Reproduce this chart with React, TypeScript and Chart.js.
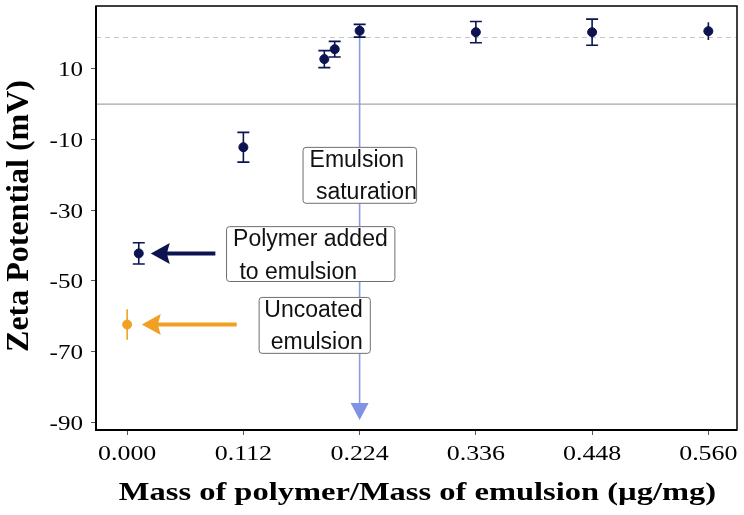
import React, { useEffect, useRef } from "react";
import { Chart, registerables } from "chart.js";

Chart.register(...registerables);

// ---- data ----
const polymerRatio = [0.0112, 0.112, 0.19, 0.2, 0.224, 0.336, 0.448, 0.56];
const polymerZeta = [-42.2, -12.2, 12.7, 15.5, 20.7, 20.3, 20.3, 20.6];
const polymerErr = [3.0, 4.2, 2.4, 2.2, 1.8, 3.0, 3.7, 2.5];
const polymerCaps = [true, true, true, true, true, true, true, false];
const uncoatedRatio = [0];
const uncoatedZeta = [-62.3];
const uncoatedErr = [4.3];
const xTickValues = [0, 0.112, 0.224, 0.336, 0.448, 0.56];
const xTickLabels = ["0.000", "0.112", "0.224", "0.336", "0.448", "0.560"];
const yTickValues = [10, -10, -30, -50, -70, -90];
const yTickLabels = ["10", "-10", "-30", "-50", "-70", "-90"];
const saturationZeta = 18.8;
const saturationRatio = 0.224;
const xTitle = "Mass of polymer/Mass of emulsion (µg/mg)";
const yTitle = "Zeta Potential (mV)";

const NAVY = "#0b1450";
const ORANGE = "#f1a024";
const LINE_BLUE = "#8c9ce2";
const HEAD_BLUE = "#7f92e4";
const SANS = "'Liberation Sans', Arial, sans-serif";
const SERIF = "'Liberation Serif', 'Times New Roman', serif";

type Note = {
  lines: string[];
  x0: number;
  x1: number;
  y0: number;
  y1: number;
  align: "left" | "right";
};

const notes: Note[] = [
  { lines: ["Emulsion", " saturation"], x0: 0.169, x1: 0.2784, y0: -12.1, y1: -27.9, align: "left" },
  { lines: ["Polymer added", " to emulsion"], x0: 0.0953, x1: 0.2575, y0: -34.5, y1: -50.0, align: "left" },
  { lines: ["Uncoated", "emulsion"], x0: 0.1267, x1: 0.2338, y0: -54.5, y1: -70.3, align: "right" },
];

const arrows = [
  { color: NAVY, xTail: 0.085, xTip: 0.0228, y: -42.2 },
  { color: ORANGE, xTail: 0.1056, xTip: 0.0141, y: -62.3 },
];

const overlay = {
  id: "overlay",
  beforeDatasetsDraw(chart: any) {
    const { ctx, chartArea: a } = chart;
    const xs = chart.scales.x;
    const ys = chart.scales.y;
    ctx.save();
    // zero line
    ctx.strokeStyle = "#a6a6a6";
    ctx.lineWidth = 1.2;
    const yz = ys.getPixelForValue(0);
    ctx.beginPath();
    ctx.moveTo(a.left, yz);
    ctx.lineTo(a.right, yz);
    ctx.stroke();
    // saturation dashed line
    ctx.strokeStyle = "#c6c6c6";
    ctx.setLineDash([5, 4]);
    const ysat = ys.getPixelForValue(saturationZeta);
    ctx.beginPath();
    ctx.moveTo(a.left, ysat);
    ctx.lineTo(a.right, ysat);
    ctx.stroke();
    ctx.setLineDash([]);
    // vertical saturation arrow
    const idx = polymerRatio.indexOf(saturationRatio);
    const vx = xs.getPixelForValue(saturationRatio);
    const vTop = ys.getPixelForValue(polymerZeta[idx]);
    const vTip = ys.getPixelForValue(-89.3);
    ctx.strokeStyle = LINE_BLUE;
    ctx.lineWidth = 1.6;
    ctx.beginPath();
    ctx.moveTo(vx, vTop);
    ctx.lineTo(vx, vTip - 14);
    ctx.stroke();
    ctx.fillStyle = HEAD_BLUE;
    ctx.beginPath();
    ctx.moveTo(vx, vTip);
    ctx.lineTo(vx - 9, vTip - 17);
    ctx.lineTo(vx + 9, vTip - 17);
    ctx.closePath();
    ctx.fill();
    // error bars
    const drawErr = (xv: number, yv: number, e: number, cap: boolean, color: string) => {
      const px = xs.getPixelForValue(xv);
      const pt = ys.getPixelForValue(yv + e);
      const pb = ys.getPixelForValue(yv - e);
      ctx.strokeStyle = color;
      ctx.lineWidth = 1.6;
      ctx.beginPath();
      ctx.moveTo(px, pt);
      ctx.lineTo(px, pb);
      if (cap) {
        ctx.moveTo(px - 6, pt);
        ctx.lineTo(px + 6, pt);
        ctx.moveTo(px - 6, pb);
        ctx.lineTo(px + 6, pb);
      }
      ctx.stroke();
    };
    polymerRatio.forEach((xv, i) => drawErr(xv, polymerZeta[i], polymerErr[i], polymerCaps[i], NAVY));
    uncoatedRatio.forEach((xv, i) => drawErr(xv, uncoatedZeta[i], uncoatedErr[i], false, ORANGE));
    ctx.restore();
  },
  afterDatasetsDraw(chart: any) {
    const { ctx } = chart;
    const xs = chart.scales.x;
    const ys = chart.scales.y;
    ctx.save();
    // arrows
    arrows.forEach((ar) => {
      const tail = xs.getPixelForValue(ar.xTail);
      const tip = xs.getPixelForValue(ar.xTip);
      const py = ys.getPixelForValue(ar.y);
      ctx.strokeStyle = ar.color;
      ctx.fillStyle = ar.color;
      ctx.lineWidth = 4;
      ctx.beginPath();
      ctx.moveTo(tail, py);
      ctx.lineTo(tip + 12, py);
      ctx.stroke();
      ctx.beginPath();
      ctx.moveTo(tip, py);
      ctx.lineTo(tip + 19, py - 10.5);
      ctx.lineTo(tip + 16, py);
      ctx.lineTo(tip + 19, py + 10.5);
      ctx.closePath();
      ctx.fill();
    });
    // annotation boxes
    notes.forEach((n) => {
      const l = xs.getPixelForValue(n.x0);
      const r = xs.getPixelForValue(n.x1);
      const t = ys.getPixelForValue(n.y0);
      const b = ys.getPixelForValue(n.y1);
      ctx.fillStyle = "#ffffff";
      ctx.strokeStyle = "#6e6e6e";
      ctx.lineWidth = 1;
      ctx.beginPath();
      (ctx as any).roundRect(l + 0.5, t + 0.5, r - l, b - t, 3);
      ctx.fill();
      ctx.stroke();
      ctx.fillStyle = "#111111";
      ctx.font = `23px ${SANS}`;
      ctx.textBaseline = "alphabetic";
      ctx.textAlign = n.align;
      const tx = n.align === "left" ? l + 7 : r - 7;
      ctx.fillText(n.lines[0], tx, t + 20);
      ctx.fillText(n.lines[1], tx, t + 52.5);
    });
    ctx.restore();
  },
  afterDraw(chart: any) {
    const { ctx, chartArea: a } = chart;
    const xs = chart.scales.x;
    const ys = chart.scales.y;
    ctx.save();
    // frame
    ctx.strokeStyle = "#000000";
    ctx.lineWidth = 1.5;
    ctx.strokeRect(a.left, a.top, a.right - a.left, a.bottom - a.top);
    ctx.lineWidth = 2;
    ctx.beginPath();
    ctx.moveTo(a.left, a.top);
    ctx.lineTo(a.left, a.bottom);
    ctx.lineTo(a.right, a.bottom);
    ctx.stroke();

    // tick labels (Times-like, slightly wide as in the original figure)
    ctx.fillStyle = "#000000";
    ctx.font = `22px ${SERIF}`;
    ctx.textBaseline = "alphabetic";
    ctx.textAlign = "center";
    xTickValues.forEach((v, i) => {
      const px = xs.getPixelForValue(v);
      ctx.save();
      ctx.translate(px, a.bottom + 30);
      ctx.scale(1.18, 1);
      ctx.fillText(xTickLabels[i], 0, 0);
      ctx.restore();
    });
    ctx.textAlign = "right";
    yTickValues.forEach((v, i) => {
      const py = ys.getPixelForValue(v);
      ctx.save();
      ctx.translate(a.left - 13, py + 7.5);
      ctx.scale(1.14, 1);
      ctx.fillText(yTickLabels[i], 0, 0);
      ctx.restore();
    });

    // axis titles
    ctx.font = `bold 26px ${SERIF}`;
    ctx.textAlign = "center";
    ctx.save();
    ctx.translate((a.left + a.right) / 2 + 1, a.bottom + 70);
    ctx.scale(1.25, 1);
    ctx.fillText(xTitle, 0, 0);
    ctx.restore();

    ctx.font = `bold 32px ${SERIF}`;
    ctx.save();
    ctx.translate(a.left - 68, (a.top + a.bottom) / 2 - 2);
    ctx.rotate(-Math.PI / 2);
    ctx.fillText(yTitle, 0, 0);
    ctx.restore();
    ctx.restore();
  },
};

export default function App() {
  const ref = useRef<HTMLCanvasElement | null>(null);
  useEffect(() => {
    document.body.style.margin = "0";
    if (!ref.current) return;
    const chart = new Chart(ref.current, {
      type: "scatter",
      data: {
        datasets: [
          {
            label: "Polymer coated",
            data: polymerRatio.map((x, i) => ({ x, y: polymerZeta[i] })),
            backgroundColor: NAVY,
            borderColor: NAVY,
            pointRadius: 4.5,
            pointHoverRadius: 4.5,
          },
          {
            label: "Uncoated",
            data: uncoatedRatio.map((x, i) => ({ x, y: uncoatedZeta[i] })),
            backgroundColor: ORANGE,
            borderColor: ORANGE,
            pointRadius: 4.5,
            pointHoverRadius: 4.5,
          },
        ],
      },
      options: {
        responsive: false,
        animation: false,
        layout: { padding: { top: 6, right: 7, left: 0, bottom: 0 } },
        plugins: { legend: { display: false }, tooltip: { enabled: false } },
        scales: {
          x: {
            type: "linear",
            min: -0.03,
            max: 0.5876,
            afterFit: (s: any) => {
              s.height = 85;
              s.paddingLeft = 0;
              s.paddingRight = 0;
            },
            afterBuildTicks: (s: any) => {
              s.ticks = xTickValues.map((v) => ({ value: v }));
            },
            border: { display: false },
            grid: { drawOnChartArea: false, drawTicks: true, tickLength: 5, color: "#555555" },
            ticks: { display: false },
            title: { display: false },
          },
          y: {
            type: "linear",
            min: -92.1,
            max: 27.7,
            afterFit: (s: any) => {
              s.width = 96;
              s.paddingTop = 0;
              s.paddingBottom = 0;
            },
            afterBuildTicks: (s: any) => {
              s.ticks = yTickValues.map((v) => ({ value: v }));
            },
            border: { display: false },
            grid: { drawOnChartArea: false, drawTicks: true, tickLength: 5, color: "#555555" },
            ticks: { display: false },
            title: { display: false },
          },
        },
      },
      plugins: [overlay],
    } as any);
    return () => chart.destroy();
  }, []);
  return <canvas ref={ref} width={744} height={515} style={{ display: "block" }} />;
}
